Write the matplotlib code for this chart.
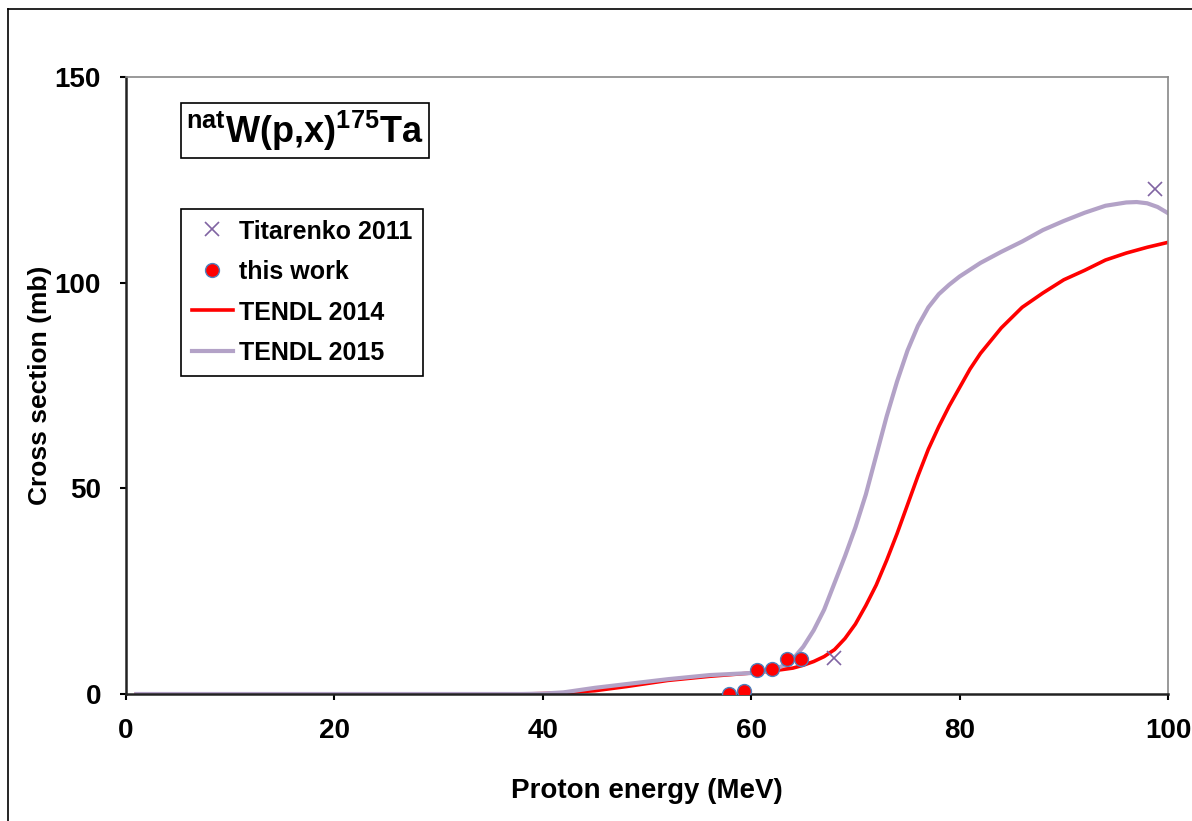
import matplotlib
matplotlib.use("Agg")
import matplotlib.pyplot as plt
from matplotlib.lines import Line2D

plt.rcParams["font.family"] = ["Liberation Sans", "DejaVu Sans"]
plt.rcParams["font.weight"] = "bold"
plt.rcParams["mathtext.fontset"] = "custom"
plt.rcParams["mathtext.rm"] = "Liberation Sans:bold"
plt.rcParams["mathtext.it"] = "Liberation Sans:bold"
plt.rcParams["mathtext.bf"] = "Liberation Sans:bold"

# Titarenko 2011
tit_e = [67.9, 98.8]
tit_xs = [8.7, 122.8]

# this work
exp_e = [57.9, 59.3, 60.6, 62.0, 63.4, 64.8]
exp_xs = [0.1, 0.8, 5.8, 6.1, 8.5, 8.4]

# TENDL 2014
t14_e = [1, 10, 20, 30, 38, 40, 42, 45, 48, 52, 56, 60, 62, 64, 65, 66, 67, 68, 69, 70,
         71, 72, 73, 74, 75, 76, 77, 78, 79, 80, 81, 82, 84, 86, 88, 90, 92, 94, 96, 98, 100]
t14_xs = [0, 0, 0, 0, 0, 0.1, 0.3, 0.8, 1.8, 3.3, 4.3, 5.1, 5.6, 6.3, 7.0, 7.9, 9.1, 10.8, 13.5, 17,
          21.5, 26.5, 32.5, 39, 46, 53, 59.5, 65, 70, 74.5, 79, 82.8, 89, 94, 97.5, 100.7,
          103, 105.5, 107.2, 108.6, 109.8]

# TENDL 2015
t15_e = [1, 10, 20, 30, 38, 40, 42, 45, 48, 52, 56, 60, 62, 63, 64, 65, 66, 67, 68, 69, 70,
         71, 72, 73, 74, 75, 76, 77, 78, 79, 80, 82, 84, 86, 88, 90, 92, 94, 96, 97, 98, 99, 100]
t15_xs = [0, 0, 0, 0, 0, 0.1, 0.4, 1.5, 2.4, 3.6, 4.6, 5.1, 5.8, 6.8, 8.5, 11.5, 15.5, 20.5, 27, 33.5, 40.5,
          48.5, 58, 67.5, 76, 83.5, 89.5, 94, 97.2, 99.5, 101.5, 104.8, 107.5, 110, 112.8, 115,
          117, 118.7, 119.5, 119.6, 119.3, 118.4, 116.9]

fig = plt.figure(figsize=(11.92, 8.21), dpi=100)
ax = fig.add_axes([126 / 1192, 1 - 694 / 821, 1042 / 1192, 617 / 821])

ax.plot(t14_e, t14_xs, color="#FF0000", lw=2.6, label="TENDL 2014", zorder=2)
ax.plot(t15_e, t15_xs, color="#B3A2C7", lw=3.0, label="TENDL 2015", zorder=2)
ax.plot(exp_e, exp_xs, ls="none", marker="o", ms=10, mfc="#FF0000",
        mec="#4F81BD", mew=1.0, label="this work", zorder=4)
ax.plot(tit_e, tit_xs, ls="none", marker="x", ms=10, color="#8064A2",
        mew=1.2, label="Titarenko 2011", zorder=5)

ax.set_xlim(0, 100)
ax.set_ylim(0, 150)
ax.set_xticks([0, 20, 40, 60, 80, 100])
ax.set_yticks([0, 50, 100, 150])
ax.tick_params(labelsize=20, length=4, width=1.5, direction="out")
ax.tick_params(axis="y", pad=14)
ax.tick_params(axis="x", pad=13)
for lab in ax.get_xticklabels() + ax.get_yticklabels():
    lab.set_fontweight("bold")

for s in ["left", "bottom"]:
    ax.spines[s].set_color("#222222")
    ax.spines[s].set_linewidth(1.8)
for s in ["top", "right"]:
    ax.spines[s].set_color("#888888")
    ax.spines[s].set_linewidth(1.2)

ax.set_xlabel("Proton energy (MeV)", fontsize=20, fontweight="bold", labelpad=25)
ax.set_ylabel("Cross section (mb)", fontsize=19, fontweight="bold", labelpad=2)

ax.text(0.058, 0.913, r"$^{\mathrm{nat}}$W(p,x)$^{\mathrm{175}}$Ta", transform=ax.transAxes,
        fontsize=26, fontweight="bold", va="center", ha="left",
        bbox=dict(boxstyle="square,pad=0.15", fc="white", ec="black", lw=1.2))

handles, labels = ax.get_legend_handles_labels()
order = [3, 2, 0, 1]
leg = ax.legend([handles[i] for i in order], [labels[i] for i in order],
                loc="upper left", bbox_to_anchor=(0.053, 0.786), borderaxespad=0,
                fancybox=False, edgecolor="black", framealpha=1,
                prop={"size": 18, "weight": "bold"}, handlelength=1.65,
                labelspacing=0.66, borderpad=0.42, handletextpad=0.25,
                handleheight=0.9)
leg.get_frame().set_linewidth(1.2)

# outer chart-area border (left and top only visible)
fig.add_artist(Line2D([8 / 1192, 8 / 1192], [0, 1 - 9 / 821], color="black", lw=1.2))
fig.add_artist(Line2D([8 / 1192, 1], [1 - 9 / 821, 1 - 9 / 821], color="black", lw=1.2))

fig.savefig("out.png", dpi=100)
